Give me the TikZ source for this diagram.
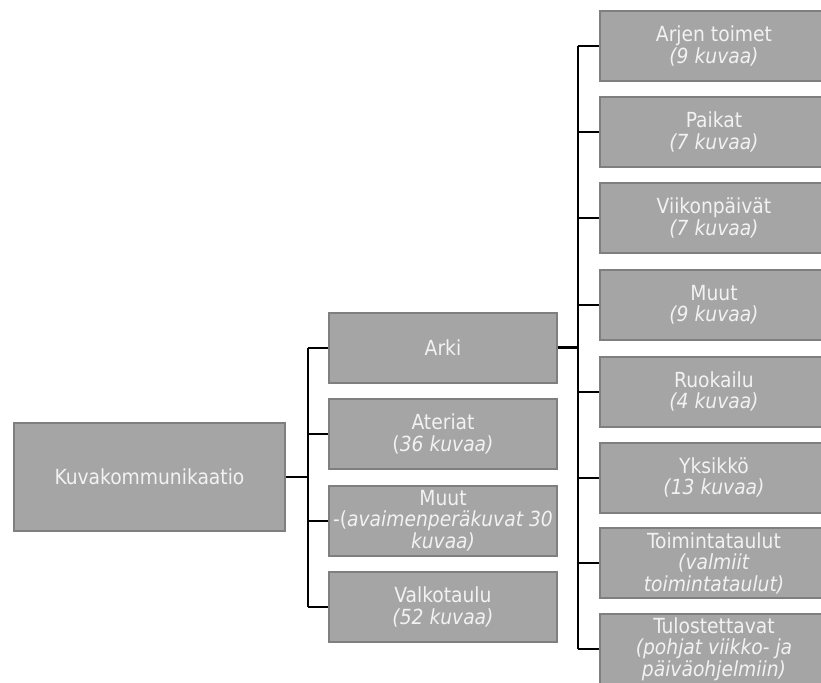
\documentclass[tikz,border=0pt]{standalone}
\usepackage{fontspec}
\setmainfont{DejaVu Sans Condensed}
\definecolor{boxfill}{HTML}{A5A5A5}
\definecolor{boxline}{HTML}{7F7F7F}
\definecolor{boxtext}{HTML}{F2F2F2}
\begin{document}
\begin{tikzpicture}[x=1pt,y=-1pt,
  cbox/.style={draw=boxline, line width=2pt, fill=boxfill, text=boxtext,
    minimum width=228pt, minimum height=70pt, inner sep=0pt, align=center,
    font=\fontsize{20.8}{21.5}\selectfont},
  conn/.style={draw=black, line width=2pt},
  bus/.style={draw=black, line width=2.6pt}]
\useasboundingbox (0,0) rectangle (821,682);
\clip (0,0) rectangle (821,682);
\node[cbox, minimum width=271pt, minimum height=108pt] (root) at (149.5,477) {Kuvakommunikaatio};
\node[cbox] (arki) at (443,347.5) {Arki};
\node[cbox] (ateriat) at (443,434) {Ateriat\\(\textit{36 kuvaa)}};
\node[cbox] (muut) at (443,520.5) {Muut\\-(\textit{avaimenperäkuvat 30}\\\textit{kuvaa)}};
\node[cbox] (valko) at (443,607) {Valkotaulu\\\textit{(52 kuvaa)}};
\node[cbox] (r1) at (714,46) {Arjen toimet\\\textit{(9 kuvaa)}};
\node[cbox] (r2) at (714,132) {Paikat\\\textit{(7 kuvaa)}};
\node[cbox] (r3) at (714,218) {Viikonpäivät\\\textit{(7 kuvaa)}};
\node[cbox] (r4) at (714,305) {Muut\\\textit{(9 kuvaa)}};
\node[cbox] (r5) at (714,391.5) {Ruokailu\\\textit{(4 kuvaa)}};
\node[cbox] (r6) at (714,477.5) {Yksikkö\\\textit{(13 kuvaa)}};
\node[cbox] (r7) at (714,563) {Toimintataulut\\\textit{(valmiit}\\\textit{toimintataulut)}};
\node[cbox] (r8) at (714,649) {Tulostettavat\\\textit{(pohjat viikko- ja}\\\textit{päiväohjelmiin)}};
\coordinate (b1) at (308,477);
\coordinate (b2) at (578,347.5);
\draw[conn] (root.east) -- (b1);
\draw[bus] (b1 |- arki.west) -- (b1 |- valko.west);
\foreach \c in {arki,ateriat,muut,valko} \draw[conn] (b1 |- \c.west) -- (\c.west);
\draw[bus] (arki.east) -- (b2);
\draw[bus] (b2 |- r1.west) -- (b2 |- r8.west);
\foreach \c in {r1,r2,r3,r4,r5,r6,r7,r8} \draw[conn] (b2 |- \c.west) -- (\c.west);
\end{tikzpicture}
\end{document}
